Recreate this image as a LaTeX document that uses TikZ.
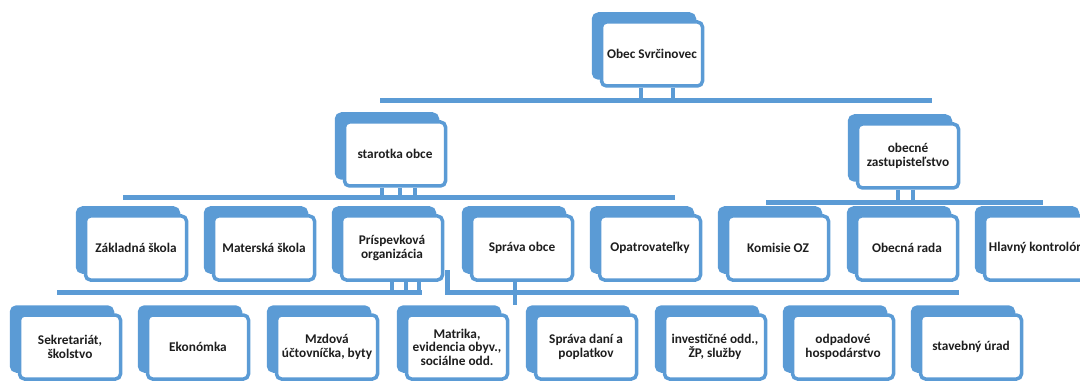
\documentclass[tikz,border=0pt]{standalone}
\usepackage{fontspec}
\setmainfont{Carlito}
\usepackage{tikz}
\usetikzlibrary{shadows}
\definecolor{orgblue}{RGB}{91,155,213}
\definecolor{orgtext}{RGB}{30,30,30}

\tikzset{
  unit/.style={draw=orgblue, line width=3.5pt, fill=white, rounded corners=5pt,
    minimum width=101pt, minimum height=64pt, inner sep=1pt, align=center,
    text=orgtext, font=\fontsize{13.3}{13.5}\selectfont\bfseries,
    copy shadow={shadow xshift=-8pt, shadow yshift=8pt, fill=orgblue, draw=orgblue}},
  bus/.style={draw=orgblue, line width=5pt},
  stem/.style={draw=orgblue, line width=4pt}
}

\begin{document}
\begin{tikzpicture}[x=1pt,y=-1pt]
\clip (0,0) rectangle (1080,385);

% obec, starostka, zastupitelstvo
\node[unit] (obec) at (652,54) {Obec Svrčinovec};
\node[unit] (starotka) at (395,154) {starotka obce};
\node[unit] (zastup) at (908,156) {obecné\\zastupisteľstvo};

% second row
\node[unit] (zakladna) at (136,248) {Základná škola};
\node[unit] (materska) at (264,248) {Materská škola};
\node[unit] (prisp) at (392,248) {Príspevková\\organizácia};
\node[unit] (sprava) at (522,248) {Správa obce};
\node[unit] (opatr) at (650,248) {Opatrovateľky};
\node[unit] (komisie) at (778,248) {Komisie OZ};
\node[unit] (rada) at (907,248) {Obecná rada};
\node[unit] (kontrolor) at (1035,248) {Hlavný kontrolór};

% third row
\node[unit] (sekretariat) at (70,347) {Sekretariát,\\školstvo};
\node[unit] (ekonomka) at (198,347) {Ekonómka};
\node[unit] (mzdova) at (327,347) {Mzdová\\účtovníčka, byty};
\node[unit] (matrika) at (457,347) {Matrika,\\evidencia obyv.,\\sociálne odd.};
\node[unit] (dane) at (586,347) {Správa daní a\\poplatkov};
\node[unit] (invest) at (715,347) {investičné odd.,\\ŽP, služby};
\node[unit] (odpad) at (843,347) {odpadové\\hospodárstvo};
\node[unit] (stavebny) at (971,347) {stavebný úrad};

% buses
\coordinate (topL) at (380,101);
\coordinate (topR) at (932,101);
\coordinate (staL) at (123,198);
\coordinate (staR) at (675,198);
\coordinate (zasL) at (766,203);
\coordinate (zasR) at (1043,203);
\coordinate (priL) at (57,292);
\coordinate (priR) at (422,292);
\coordinate (sprK) at (447,270);
\coordinate (sprR) at (959,292);
\coordinate (sprE) at (515,305);

\draw[bus] (topL) -- (topR);
\draw[bus] (staL) -- (staR);
\draw[bus] (zasL) -- (zasR);
\draw[bus] (priL) -- (priR);
\draw[bus] (sprK) |- (sprR);

% stems
\foreach \dx in {-11,21}
  \draw[stem] ([xshift=\dx pt]obec.south) -- ([xshift=\dx pt]obec.south |- topL);
\foreach \dx in {-13,5,20}
  \draw[stem] ([xshift=\dx pt]starotka.south) -- ([xshift=\dx pt]starotka.south |- staL);
\foreach \dx in {-10,5}
  \draw[stem] ([xshift=\dx pt]zastup.south) -- ([xshift=\dx pt]zastup.south |- zasL);
\foreach \dx in {0,14,27}
  \draw[stem] ([xshift=\dx pt]prisp.south) -- ([xshift=\dx pt]prisp.south |- priL);
\draw[stem] (sprava.south -| sprE) -- (sprE);

\end{tikzpicture}
\end{document}
